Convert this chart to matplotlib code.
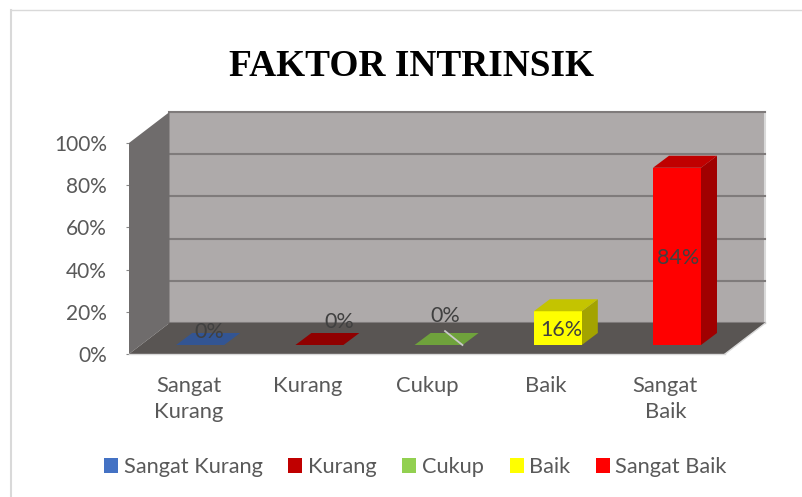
import matplotlib
matplotlib.use('Agg')
import matplotlib.pyplot as plt
from matplotlib.patches import Polygon, Rectangle

categories = ['Sangat\nKurang', 'Kurang', 'Cukup', 'Baik', 'Sangat\nBaik']
legend_names = ['Sangat Kurang', 'Kurang', 'Cukup', 'Baik', 'Sangat Baik']
values = [0, 0, 0, 16, 84]
value_labels = ['0%', '0%', '0%', '16%', '84%']
yticks = [0, 20, 40, 60, 80, 100]
front_colors = ['#4472c4', '#c00000', '#92d050', '#ffff00', '#ff0000']
top_colors = ['#335593', '#900000', '#6fa23c', '#c4c400', '#c00000']
side_colors = ['#2a4678', '#760000', '#5a8031', '#a3a300', '#a00000']

W, H = 803, 497
plt.rcParams['font.family'] = ['Lato', 'DejaVu Sans']
TXT = '#595959'

fig = plt.figure(figsize=(W / 100, H / 100), dpi=100)
# axes sits on the front plane of the 3d box
L, R, T, B = 129, 725, 143, 354
ax = fig.add_axes([L / W, 1 - B / H, (R - L) / W, (B - T) / H])
ax.set_xlim(0, 5)
ax.set_ylim(0, 100)
ax.patch.set_visible(False)
for s in ax.spines.values():
    s.set_visible(False)

ux = (R - L) / 5
uy = (B - T) / 100
dx, dy = 40.5 / ux, 31 / uy           # box depth
bdx, bdy = 16 / ux, 12 / uy           # bar depth
base_x, base_y = 11.6 / ux, 9 / uy    # bar offset from the front plane
bar_w = 48 / ux


def poly(pts, color, z, lw=0, ec=None):
    ax.add_patch(Polygon(pts, closed=True, fc=color, ec=ec or color, lw=lw, zorder=z, clip_on=False))


# back wall, side wall, floor
poly([(dx, dy), (5 + dx, dy), (5 + dx, 100 + dy), (dx, 100 + dy)], '#aeaaaa', 1)
poly([(0, 0), (dx, dy), (dx, 100 + dy), (0, 100)], '#6f6c6c', 2)
poly([(0, 0), (5, 0), (5 + dx, dy), (dx, dy)], '#595553', 2)
for t in yticks:
    ax.plot([dx, 5 + dx], [t + dy, t + dy], color='#7f7b7b', lw=1.5, zorder=1.5, clip_on=False)
ax.plot([5 + dx, 5 + dx], [dy, 100 + dy], color='#d9d9d9', lw=1.5, zorder=1.4, clip_on=False)
ax.plot([0, 5], [0, 0], color='#d9d9d9', lw=1, zorder=2.6, clip_on=False)
ax.plot([5, 5 + dx], [0, dy], color='#d9d9d9', lw=1, zorder=2.6, clip_on=False)

# bars
for i, v in enumerate(values):
    x0 = i + 0.5 + base_x - bar_w / 2
    x1 = x0 + bar_w
    y0 = base_y
    y1 = base_y + v
    if v > 0:
        poly([(x1, y0), (x1 + bdx, y0 + bdy), (x1 + bdx, y1 + bdy), (x1, y1)], side_colors[i], 4)
        poly([(x0, y0), (x1, y0), (x1, y1), (x0, y1)], front_colors[i], 5)
    poly([(x0, y1), (x1, y1), (x1 + bdx, y1 + bdy), (x0 + bdx, y1 + bdy)], top_colors[i], 5)

# value labels, nudged by hand like the original
nudge = [(0.078, 6.3), (0.165, 10.8), (0.055, 13.8), (0.03, -9), (0.013, -42.6)]
for i, v in enumerate(values):
    nx, ny = nudge[i]
    ax.text(i + 0.5 + base_x + nx, base_y + v + ny, value_labels[i], color='#404040',
            fontsize=15.5, ha='center', va='center', zorder=7, clip_on=False)
# leader line of the Cukup label
ax.plot([2.5 + base_x + 0.054, 2.5 + base_x + 0.2], [base_y + 6.6, base_y],
        color='#c9c9c9', lw=1.3, zorder=6, clip_on=False)

ax.set_yticks(yticks)
ax.set_yticklabels(['%d%%' % t for t in yticks], fontsize=15, color=TXT)
ax.set_xticks([i + 0.5 for i in range(5)])
ax.set_xticklabels(categories, fontsize=15.8, color=TXT, linespacing=1.35)
ax.tick_params(axis='y', length=2, width=0.8, color='#888888', pad=14)
ax.tick_params(axis='x', length=0, pad=16)

fig.text(411.5 / W, 1 - 66 / H, 'FAKTOR INTRINSIK', family='Liberation Serif', weight='bold',
         fontsize=26.9, color='black', ha='center', va='center')

handles = [Rectangle((0, 0), 1, 1, fc=c) for c in front_colors]
fig.legend(handles, legend_names, ncol=5, loc='center', bbox_to_anchor=(415.5 / W, 1 - 467 / H),
           frameon=False, fontsize=15.7, labelcolor=TXT, handlelength=0.64, handleheight=0.64,
           handletextpad=0.25, columnspacing=1.19, borderpad=0, borderaxespad=0)

# chart frame
fig.add_artist(plt.Line2D([11.5 / W, 11.5 / W], [0, 1 - 9.5 / H], color='#d9d9d9', lw=1.5))
fig.add_artist(plt.Line2D([11.5 / W, 1], [1 - 9.5 / H, 1 - 9.5 / H], color='#d9d9d9', lw=1))

fig.savefig('out.png', dpi=100)
